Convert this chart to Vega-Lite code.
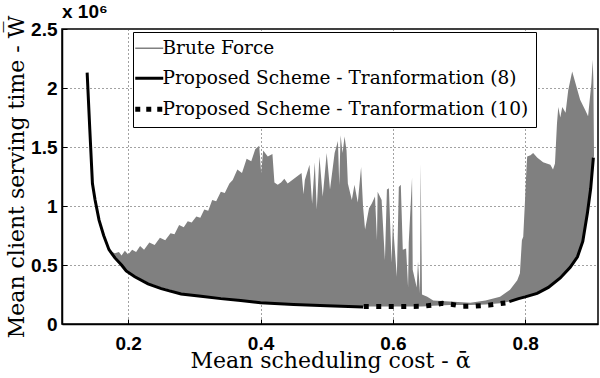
{
  "$schema": "https://vega.github.io/schema/vega-lite/v6.json",
  "width": 536,
  "height": 295,
  "autosize": {"type": "none"},
  "padding": {"left": 62, "top": 29, "right": 2, "bottom": 54},
  "background": "white",
  "title": {"text": "x 10⁶", "anchor": "start", "frame": "group", "offset": 0, "dy": 7, "fontSize": 19, "font": "Liberation Sans", "fontWeight": "bold", "color": "black"},
  "config": {
    "view": {"stroke": "black", "strokeWidth": 1.5},
    "axis": {
      "domainColor": "black", "domainWidth": 1.5, "tickColor": "black", "tickSize": -5,
      "labelFont": "Liberation Sans", "labelFontSize": 19, "labelFontWeight": "bold", "labelColor": "black",
      "titleFont": "DejaVu Serif", "titleFontSize": 22, "titleFontWeight": "normal", "titleColor": "black",
      "gridColor": "#444", "gridDash": [1, 3], "gridWidth": 1
    }
  },
  "datasets": {
    "bf": [
      {"x": 0.176, "lo": 0.60, "hi": 0.61, "series": "Brute Force"},
      {"x": 0.18, "lo": 0.56, "hi": 0.60, "series": "Brute Force"},
      {"x": 0.186, "lo": 0.52, "hi": 0.61, "series": "Brute Force"},
      {"x": 0.19, "lo": 0.50, "hi": 0.58, "series": "Brute Force"},
      {"x": 0.195, "lo": 0.47, "hi": 0.62, "series": "Brute Force"},
      {"x": 0.20, "lo": 0.44, "hi": 0.59, "series": "Brute Force"},
      {"x": 0.206, "lo": 0.42, "hi": 0.63, "series": "Brute Force"},
      {"x": 0.212, "lo": 0.40, "hi": 0.61, "series": "Brute Force"},
      {"x": 0.218, "lo": 0.38, "hi": 0.66, "series": "Brute Force"},
      {"x": 0.224, "lo": 0.37, "hi": 0.63, "series": "Brute Force"},
      {"x": 0.232, "lo": 0.34, "hi": 0.69, "series": "Brute Force"},
      {"x": 0.24, "lo": 0.33, "hi": 0.67, "series": "Brute Force"},
      {"x": 0.248, "lo": 0.31, "hi": 0.73, "series": "Brute Force"},
      {"x": 0.256, "lo": 0.30, "hi": 0.71, "series": "Brute Force"},
      {"x": 0.264, "lo": 0.29, "hi": 0.77, "series": "Brute Force"},
      {"x": 0.27, "lo": 0.275, "hi": 0.76, "series": "Brute Force"},
      {"x": 0.277, "lo": 0.26, "hi": 0.84, "series": "Brute Force"},
      {"x": 0.284, "lo": 0.255, "hi": 0.82, "series": "Brute Force"},
      {"x": 0.29, "lo": 0.25, "hi": 0.87, "series": "Brute Force"},
      {"x": 0.296, "lo": 0.245, "hi": 0.86, "series": "Brute Force"},
      {"x": 0.303, "lo": 0.24, "hi": 0.91, "series": "Brute Force"},
      {"x": 0.309, "lo": 0.235, "hi": 0.90, "series": "Brute Force"},
      {"x": 0.315, "lo": 0.23, "hi": 0.97, "series": "Brute Force"},
      {"x": 0.321, "lo": 0.228, "hi": 0.96, "series": "Brute Force"},
      {"x": 0.327, "lo": 0.225, "hi": 1.05, "series": "Brute Force"},
      {"x": 0.333, "lo": 0.22, "hi": 1.04, "series": "Brute Force"},
      {"x": 0.34, "lo": 0.215, "hi": 1.12, "series": "Brute Force"},
      {"x": 0.346, "lo": 0.212, "hi": 1.11, "series": "Brute Force"},
      {"x": 0.353, "lo": 0.21, "hi": 1.19, "series": "Brute Force"},
      {"x": 0.358, "lo": 0.205, "hi": 1.22, "series": "Brute Force"},
      {"x": 0.365, "lo": 0.20, "hi": 1.31, "series": "Brute Force"},
      {"x": 0.372, "lo": 0.20, "hi": 1.28, "series": "Brute Force"},
      {"x": 0.379, "lo": 0.195, "hi": 1.40, "series": "Brute Force"},
      {"x": 0.386, "lo": 0.19, "hi": 1.38, "series": "Brute Force"},
      {"x": 0.392, "lo": 0.19, "hi": 1.48, "series": "Brute Force"},
      {"x": 0.398, "lo": 0.185, "hi": 1.51, "series": "Brute Force"},
      {"x": 0.401, "lo": 0.185, "hi": 1.28, "series": "Brute Force"},
      {"x": 0.404, "lo": 0.185, "hi": 1.47, "series": "Brute Force"},
      {"x": 0.411, "lo": 0.18, "hi": 1.42, "series": "Brute Force"},
      {"x": 0.418, "lo": 0.18, "hi": 1.44, "series": "Brute Force"},
      {"x": 0.421, "lo": 0.18, "hi": 1.20, "series": "Brute Force"},
      {"x": 0.426, "lo": 0.178, "hi": 1.18, "series": "Brute Force"},
      {"x": 0.431, "lo": 0.176, "hi": 1.20, "series": "Brute Force"},
      {"x": 0.436, "lo": 0.175, "hi": 1.23, "series": "Brute Force"},
      {"x": 0.441, "lo": 0.174, "hi": 1.19, "series": "Brute Force"},
      {"x": 0.448, "lo": 0.172, "hi": 1.22, "series": "Brute Force"},
      {"x": 0.455, "lo": 0.17, "hi": 1.25, "series": "Brute Force"},
      {"x": 0.462, "lo": 0.168, "hi": 1.28, "series": "Brute Force"},
      {"x": 0.465, "lo": 0.167, "hi": 1.10, "series": "Brute Force"},
      {"x": 0.467, "lo": 0.167, "hi": 1.22, "series": "Brute Force"},
      {"x": 0.474, "lo": 0.165, "hi": 1.35, "series": "Brute Force"},
      {"x": 0.478, "lo": 0.165, "hi": 1.02, "series": "Brute Force"},
      {"x": 0.482, "lo": 0.164, "hi": 1.37, "series": "Brute Force"},
      {"x": 0.485, "lo": 0.163, "hi": 0.97, "series": "Brute Force"},
      {"x": 0.489, "lo": 0.162, "hi": 1.42, "series": "Brute Force"},
      {"x": 0.494, "lo": 0.16, "hi": 1.08, "series": "Brute Force"},
      {"x": 0.50, "lo": 0.158, "hi": 1.45, "series": "Brute Force"},
      {"x": 0.505, "lo": 0.157, "hi": 1.14, "series": "Brute Force"},
      {"x": 0.512, "lo": 0.155, "hi": 1.45, "series": "Brute Force"},
      {"x": 0.517, "lo": 0.154, "hi": 1.55, "series": "Brute Force"},
      {"x": 0.519, "lo": 0.153, "hi": 1.18, "series": "Brute Force"},
      {"x": 0.521, "lo": 0.153, "hi": 1.60, "series": "Brute Force"},
      {"x": 0.524, "lo": 0.152, "hi": 1.45, "series": "Brute Force"},
      {"x": 0.527, "lo": 0.152, "hi": 1.59, "series": "Brute Force"},
      {"x": 0.53, "lo": 0.151, "hi": 1.47, "series": "Brute Force"},
      {"x": 0.532, "lo": 0.151, "hi": 1.19, "series": "Brute Force"},
      {"x": 0.538, "lo": 0.15, "hi": 1.05, "series": "Brute Force"},
      {"x": 0.542, "lo": 0.15, "hi": 1.18, "series": "Brute Force"},
      {"x": 0.547, "lo": 0.149, "hi": 1.03, "series": "Brute Force"},
      {"x": 0.552, "lo": 0.148, "hi": 1.33, "series": "Brute Force"},
      {"x": 0.555, "lo": 0.148, "hi": 0.99, "series": "Brute Force"},
      {"x": 0.558, "lo": 0.148, "hi": 0.80, "series": "Brute Force"},
      {"x": 0.564, "lo": 0.148, "hi": 0.98, "series": "Brute Force"},
      {"x": 0.568, "lo": 0.148, "hi": 1.02, "series": "Brute Force"},
      {"x": 0.573, "lo": 0.148, "hi": 1.08, "series": "Brute Force"},
      {"x": 0.576, "lo": 0.148, "hi": 0.71, "series": "Brute Force"},
      {"x": 0.577, "lo": 0.148, "hi": 1.12, "series": "Brute Force"},
      {"x": 0.583, "lo": 0.148, "hi": 1.05, "series": "Brute Force"},
      {"x": 0.588, "lo": 0.148, "hi": 0.54, "series": "Brute Force"},
      {"x": 0.591, "lo": 0.148, "hi": 1.14, "series": "Brute Force"},
      {"x": 0.594, "lo": 0.148, "hi": 1.15, "series": "Brute Force"},
      {"x": 0.598, "lo": 0.148, "hi": 0.52, "series": "Brute Force"},
      {"x": 0.60, "lo": 0.148, "hi": 0.86, "series": "Brute Force"},
      {"x": 0.606, "lo": 0.148, "hi": 0.40, "series": "Brute Force"},
      {"x": 0.609, "lo": 0.148, "hi": 1.16, "series": "Brute Force"},
      {"x": 0.612, "lo": 0.148, "hi": 1.18, "series": "Brute Force"},
      {"x": 0.615, "lo": 0.148, "hi": 0.63, "series": "Brute Force"},
      {"x": 0.62, "lo": 0.148, "hi": 0.64, "series": "Brute Force"},
      {"x": 0.623, "lo": 0.148, "hi": 0.31, "series": "Brute Force"},
      {"x": 0.624, "lo": 0.148, "hi": 0.69, "series": "Brute Force"},
      {"x": 0.629, "lo": 0.148, "hi": 1.24, "series": "Brute Force"},
      {"x": 0.63, "lo": 0.148, "hi": 0.46, "series": "Brute Force"},
      {"x": 0.636, "lo": 0.148, "hi": 0.31, "series": "Brute Force"},
      {"x": 0.638, "lo": 0.148, "hi": 0.53, "series": "Brute Force"},
      {"x": 0.641, "lo": 0.148, "hi": 0.26, "series": "Brute Force"},
      {"x": 0.642, "lo": 0.148, "hi": 1.36, "series": "Brute Force"},
      {"x": 0.644, "lo": 0.148, "hi": 0.25, "series": "Brute Force"},
      {"x": 0.652, "lo": 0.15, "hi": 0.23, "series": "Brute Force"},
      {"x": 0.661, "lo": 0.155, "hi": 0.20, "series": "Brute Force"},
      {"x": 0.686, "lo": 0.16, "hi": 0.19, "series": "Brute Force"},
      {"x": 0.717, "lo": 0.16, "hi": 0.18, "series": "Brute Force"},
      {"x": 0.74, "lo": 0.165, "hi": 0.20, "series": "Brute Force"},
      {"x": 0.762, "lo": 0.175, "hi": 0.23, "series": "Brute Force"},
      {"x": 0.777, "lo": 0.19, "hi": 0.29, "series": "Brute Force"},
      {"x": 0.788, "lo": 0.205, "hi": 0.37, "series": "Brute Force"},
      {"x": 0.792, "lo": 0.21, "hi": 0.43, "series": "Brute Force"},
      {"x": 0.795, "lo": 0.215, "hi": 0.71, "series": "Brute Force"},
      {"x": 0.797, "lo": 0.22, "hi": 0.74, "series": "Brute Force"},
      {"x": 0.80, "lo": 0.225, "hi": 1.08, "series": "Brute Force"},
      {"x": 0.802, "lo": 0.228, "hi": 1.33, "series": "Brute Force"},
      {"x": 0.803, "lo": 0.23, "hi": 1.42, "series": "Brute Force"},
      {"x": 0.808, "lo": 0.24, "hi": 1.43, "series": "Brute Force"},
      {"x": 0.812, "lo": 0.245, "hi": 1.45, "series": "Brute Force"},
      {"x": 0.818, "lo": 0.26, "hi": 1.41, "series": "Brute Force"},
      {"x": 0.827, "lo": 0.28, "hi": 1.37, "series": "Brute Force"},
      {"x": 0.838, "lo": 0.32, "hi": 1.35, "series": "Brute Force"},
      {"x": 0.842, "lo": 0.34, "hi": 1.31, "series": "Brute Force"},
      {"x": 0.845, "lo": 0.355, "hi": 1.36, "series": "Brute Force"},
      {"x": 0.848, "lo": 0.37, "hi": 1.70, "series": "Brute Force"},
      {"x": 0.85, "lo": 0.38, "hi": 1.84, "series": "Brute Force"},
      {"x": 0.853, "lo": 0.39, "hi": 1.75, "series": "Brute Force"},
      {"x": 0.856, "lo": 0.41, "hi": 1.84, "series": "Brute Force"},
      {"x": 0.861, "lo": 0.44, "hi": 1.79, "series": "Brute Force"},
      {"x": 0.865, "lo": 0.46, "hi": 1.98, "series": "Brute Force"},
      {"x": 0.871, "lo": 0.50, "hi": 2.14, "series": "Brute Force"},
      {"x": 0.876, "lo": 0.54, "hi": 2.04, "series": "Brute Force"},
      {"x": 0.883, "lo": 0.63, "hi": 1.90, "series": "Brute Force"},
      {"x": 0.891, "lo": 0.82, "hi": 1.81, "series": "Brute Force"},
      {"x": 0.895, "lo": 0.97, "hi": 1.76, "series": "Brute Force"},
      {"x": 0.90, "lo": 1.25, "hi": 2.04, "series": "Brute Force"},
      {"x": 0.902, "lo": 1.35, "hi": 2.24, "series": "Brute Force"},
      {"x": 0.903, "lo": 1.41, "hi": 2.07, "series": "Brute Force"},
      {"x": 0.904, "lo": 1.42, "hi": 1.42, "series": "Brute Force"}
    ],
    "cv": [
      {"x": 0.138, "y": 2.13, "series": "Proposed Scheme - Tranformation (8)", "seg": "a"},
      {"x": 0.142, "y": 1.65, "series": "Proposed Scheme - Tranformation (8)", "seg": "a"},
      {"x": 0.146, "y": 1.19, "series": "Proposed Scheme - Tranformation (8)", "seg": "a"},
      {"x": 0.150, "y": 1.05, "series": "Proposed Scheme - Tranformation (8)", "seg": "a"},
      {"x": 0.156, "y": 0.88, "series": "Proposed Scheme - Tranformation (8)", "seg": "a"},
      {"x": 0.163, "y": 0.75, "series": "Proposed Scheme - Tranformation (8)", "seg": "a"},
      {"x": 0.171, "y": 0.63, "series": "Proposed Scheme - Tranformation (8)", "seg": "a"},
      {"x": 0.180, "y": 0.56, "series": "Proposed Scheme - Tranformation (8)", "seg": "a"},
      {"x": 0.190, "y": 0.50, "series": "Proposed Scheme - Tranformation (8)", "seg": "a"},
      {"x": 0.197, "y": 0.45, "series": "Proposed Scheme - Tranformation (8)", "seg": "a"},
      {"x": 0.210, "y": 0.40, "series": "Proposed Scheme - Tranformation (8)", "seg": "a"},
      {"x": 0.230, "y": 0.34, "series": "Proposed Scheme - Tranformation (8)", "seg": "a"},
      {"x": 0.250, "y": 0.30, "series": "Proposed Scheme - Tranformation (8)", "seg": "a"},
      {"x": 0.280, "y": 0.255, "series": "Proposed Scheme - Tranformation (8)", "seg": "a"},
      {"x": 0.310, "y": 0.235, "series": "Proposed Scheme - Tranformation (8)", "seg": "a"},
      {"x": 0.340, "y": 0.215, "series": "Proposed Scheme - Tranformation (8)", "seg": "a"},
      {"x": 0.370, "y": 0.20, "series": "Proposed Scheme - Tranformation (8)", "seg": "a"},
      {"x": 0.400, "y": 0.18, "series": "Proposed Scheme - Tranformation (8)", "seg": "a"},
      {"x": 0.450, "y": 0.165, "series": "Proposed Scheme - Tranformation (8)", "seg": "a"},
      {"x": 0.500, "y": 0.155, "series": "Proposed Scheme - Tranformation (8)", "seg": "a"},
      {"x": 0.555, "y": 0.145, "series": "Proposed Scheme - Tranformation (8)", "seg": "a"},
      {"x": 0.776, "y": 0.19, "series": "Proposed Scheme - Tranformation (8)", "seg": "b"},
      {"x": 0.790, "y": 0.215, "series": "Proposed Scheme - Tranformation (8)", "seg": "b"},
      {"x": 0.800, "y": 0.23, "series": "Proposed Scheme - Tranformation (8)", "seg": "b"},
      {"x": 0.818, "y": 0.26, "series": "Proposed Scheme - Tranformation (8)", "seg": "b"},
      {"x": 0.835, "y": 0.31, "series": "Proposed Scheme - Tranformation (8)", "seg": "b"},
      {"x": 0.853, "y": 0.39, "series": "Proposed Scheme - Tranformation (8)", "seg": "b"},
      {"x": 0.868, "y": 0.48, "series": "Proposed Scheme - Tranformation (8)", "seg": "b"},
      {"x": 0.879, "y": 0.57, "series": "Proposed Scheme - Tranformation (8)", "seg": "b"},
      {"x": 0.887, "y": 0.70, "series": "Proposed Scheme - Tranformation (8)", "seg": "b"},
      {"x": 0.894, "y": 0.94, "series": "Proposed Scheme - Tranformation (8)", "seg": "b"},
      {"x": 0.899, "y": 1.15, "series": "Proposed Scheme - Tranformation (8)", "seg": "b"},
      {"x": 0.903, "y": 1.41, "series": "Proposed Scheme - Tranformation (8)", "seg": "b"},
      {"x": 0.556, "y": 0.148, "series": "Proposed Scheme - Tranformation (10)", "seg": "c"},
      {"x": 0.580, "y": 0.148, "series": "Proposed Scheme - Tranformation (10)", "seg": "c"},
      {"x": 0.600, "y": 0.148, "series": "Proposed Scheme - Tranformation (10)", "seg": "c"},
      {"x": 0.620, "y": 0.148, "series": "Proposed Scheme - Tranformation (10)", "seg": "c"},
      {"x": 0.645, "y": 0.15, "series": "Proposed Scheme - Tranformation (10)", "seg": "c"},
      {"x": 0.660, "y": 0.16, "series": "Proposed Scheme - Tranformation (10)", "seg": "c"},
      {"x": 0.675, "y": 0.175, "series": "Proposed Scheme - Tranformation (10)", "seg": "c"},
      {"x": 0.690, "y": 0.165, "series": "Proposed Scheme - Tranformation (10)", "seg": "c"},
      {"x": 0.705, "y": 0.15, "series": "Proposed Scheme - Tranformation (10)", "seg": "c"},
      {"x": 0.725, "y": 0.152, "series": "Proposed Scheme - Tranformation (10)", "seg": "c"},
      {"x": 0.745, "y": 0.16, "series": "Proposed Scheme - Tranformation (10)", "seg": "c"},
      {"x": 0.770, "y": 0.178, "series": "Proposed Scheme - Tranformation (10)", "seg": "c"}
    ]
  },
  "encoding": {
    "x": {"field": "x", "type": "quantitative", "scale": {"domain": [0.1, 0.91], "nice": false, "zero": false},
          "axis": {"values": [0.2, 0.4, 0.6, 0.8], "format": ".1f", "title": "Mean scheduling cost - ᾱ", "labelPadding": 15, "titlePadding": -3, "grid": true}}
  },
  "layer": [
    {
      "data": {"name": "bf"},
      "mark": {"type": "area", "clip": true},
      "encoding": {
        "y": {"field": "lo", "type": "quantitative", "scale": {"domain": [0, 2.5], "nice": false},
              "axis": {"values": [0, 0.5, 1, 1.5, 2, 2.5], "format": "~g", "title": "Mean client serving time - W̅", "labelPadding": 10, "titlePadding": 2, "grid": true}},
        "y2": {"field": "hi"},
        "color": {"field": "series", "type": "nominal",
                  "scale": {"domain": ["Brute Force", "Proposed Scheme - Tranformation (8)", "Proposed Scheme - Tranformation (10)"], "range": ["#808080", "#000000", "#000000"]},
                  "legend": {"orient": "none", "legendX": 71, "legendY": 3, "title": null, "symbolType": "stroke", "symbolSize": 784,
                             "labelFont": "DejaVu Serif", "labelFontSize": 18.5, "labelColor": "black", "labelLimit": 0,
                             "strokeColor": "black", "fillColor": "white", "padding": 7, "rowPadding": 11, "labelOffset": 4,
                             "encode": {"symbols": {"update": {
                               "fill": {"value": "transparent"},
                               "stroke": {"signal": "datum.value === 'Brute Force' ? '#808080' : '#000000'"},
                               "strokeWidth": {"signal": "datum.value === 'Brute Force' ? 1.5 : (datum.value === 'Proposed Scheme - Tranformation (8)' ? 3 : 5)"},
                               "strokeDash": {"signal": "datum.value === 'Proposed Scheme - Tranformation (10)' ? [5, 6] : [1, 0]"}
                             }}}}}
      }
    },
    {
      "data": {"name": "cv"},
      "transform": [{"filter": "datum.series === 'Proposed Scheme - Tranformation (8)'"}],
      "mark": {"type": "line", "strokeCap": "butt", "strokeWidth": 3, "clip": true},
      "encoding": {
        "y": {"field": "y", "type": "quantitative"},
        "detail": {"field": "seg"},
        "color": {"field": "series", "type": "nominal"}
      }
    },
    {
      "data": {"name": "cv"},
      "transform": [{"filter": "datum.series === 'Proposed Scheme - Tranformation (10)'"}],
      "mark": {"type": "line", "strokeCap": "butt", "strokeWidth": 5, "strokeDash": [5, 7.5], "clip": true},
      "encoding": {
        "y": {"field": "y", "type": "quantitative"},
        "color": {"field": "series", "type": "nominal"}
      }
    }
  ]
}
